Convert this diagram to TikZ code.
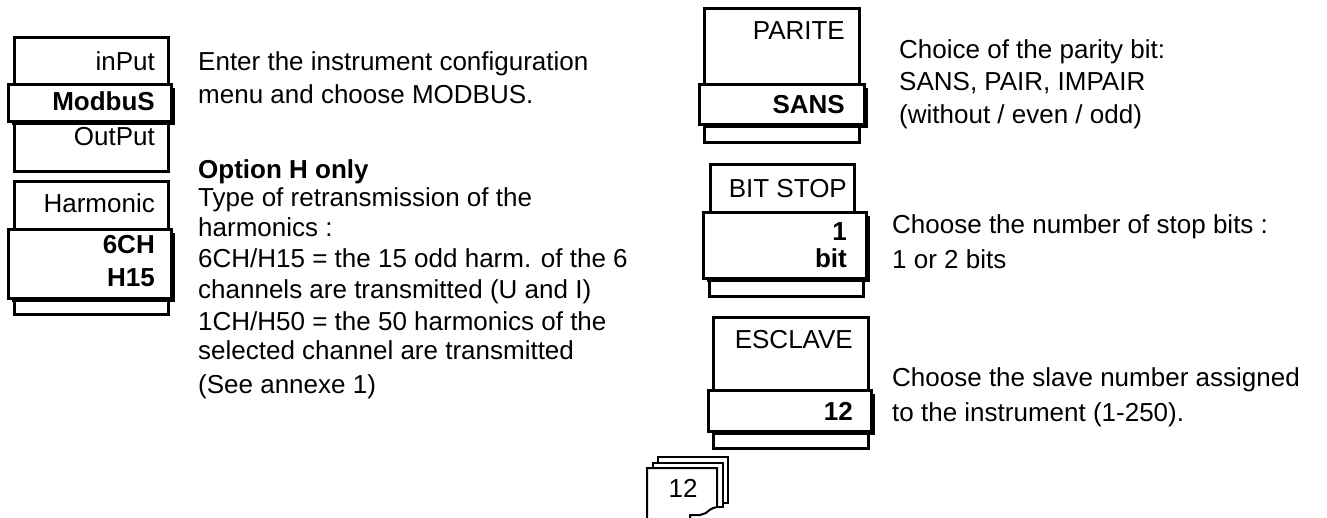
\documentclass[tikz,border=0pt]{standalone}
\usepackage{fontspec}
\setmainfont{Liberation Sans}
\usetikzlibrary{shadows}
\newcommand{\myfont}{\fontsize{26}{31}\selectfont}
\tikzset{
  box/.style={draw, line width=2.5pt, fill=white, inner sep=0pt, anchor=north west},
  selbox/.style={box, drop shadow={shadow xshift=4pt, shadow yshift=-4pt, opacity=1, fill=black}},
  lbl/.style={anchor=base east, inner sep=0pt, font=\myfont},
  blbl/.style={anchor=base east, inner sep=0pt, font=\myfont\bfseries},
  txt/.style={anchor=base west, inner sep=0pt, font=\myfont},
  btxt/.style={anchor=base west, inner sep=0pt, font=\myfont\bfseries},
  page/.style={draw, line width=2pt, fill=white},
}
\begin{document}
\begin{tikzpicture}[x=1pt, y=-1pt]
\useasboundingbox (0,0) rectangle (1327,517);
\clip (0,0) rectangle (1327,517);
% ---------- widget 1 : inPut / ModbuS / OutPut
\node[box, minimum width=154pt, minimum height=60pt] (inHdr) at (13,36) {};
\node[box, minimum width=154pt, minimum height=56pt] (outBox) at (13,114) {};
\node[selbox, minimum width=163pt, minimum height=37pt] (modVal) at (7,83) {};
\node[lbl] (tIn) at (155,70.5) {inPut};
\node[blbl] (tMod) at (155,110.5) {ModbuS};
\node[lbl] (tOut) at (155,145.5) {OutPut};
% ---------- widget 2 : Harmonic
\node[box, minimum width=154pt, minimum height=60pt] (harHdr) at (13,180) {};
\node[box, minimum width=154pt, minimum height=20pt] (harStrip) at (13,293) {};
\node[selbox, minimum width=163pt, minimum height=69pt] (harVal) at (7,228) {};
\node[lbl] (tHar) at (155,212.5) {Harmonic};
\node[blbl] (tSixCH) at (155,253.5) {6CH};
\node[blbl] (tHfif) at (155,286.5) {H15};
% ---------- widget 3 : PARITE
\node[box, minimum width=155pt, minimum height=85pt] (parHdr) at (703,7) {};
\node[box, minimum width=155pt, minimum height=22pt] (parStrip) at (703,119) {};
\node[selbox, minimum width=165pt, minimum height=40pt] (parVal) at (698,83) {};
\node[lbl] (tPar) at (845,39.5) {PARITE};
\node[blbl] (tSans) at (845,113.5) {SANS};
% ---------- widget 4 : BIT STOP
\node[box, minimum width=144pt, minimum height=55pt] (bitHdr) at (709,163) {};
\node[box, minimum width=154pt, minimum height=22pt] (bitStrip) at (708,273) {};
\node[selbox, minimum width=163pt, minimum height=66pt] (bitVal) at (702,211) {};
\node[lbl] (tBit) at (847,197) {BIT STOP};
\node[blbl] (tOne) at (847,240.5) {1};
\node[blbl] (tBitv) at (847,267.5) {bit};
% ---------- widget 5 : ESCLAVE
\node[box, minimum width=155pt, minimum height=80pt] (escHdr) at (712,316) {};
\node[box, minimum width=155pt, minimum height=21pt] (escStrip) at (712,426) {};
\node[selbox, minimum width=163pt, minimum height=41pt] (escVal) at (707,389) {};
\node[lbl] (tEsc) at (853,348.5) {ESCLAVE};
\node[blbl] (tTwelve) at (853,420.5) {12};
% ---------- descriptions, left
\node[txt] (d1) at (198,70.5) {Enter the instrument configuration};
\node[txt] (d2) at (198,103.5) {menu and choose MODBUS.};
\node[btxt] (h1) at (198,178.5) {Option H only};
\node[txt] (h2) at (198,206.5) {Type of retransmission of the};
\node[txt] (h3) at (198,236.5) {harmonics :};
\node[txt] (h4) at (198,267.5) {6CH/H15 = the 15 odd harm. of the 6};
\node[txt] (h5) at (198,298.5) {channels are transmitted (U and I)};
\node[txt] (h6) at (198,330.5) {1CH/H50 = the 50 harmonics of the};
\node[txt] (h7) at (198,359) {selected channel are transmitted};
\node[txt] (h8) at (198,393) {(See annexe 1)};
% ---------- descriptions, right
\node[txt] (p1) at (899,58.5) {Choice of the parity bit:};
\node[txt] (p2) at (899,90.5) {SANS, PAIR, IMPAIR};
\node[txt] (p3) at (899,123.5) {(without / even / odd)};
\node[txt] (s1) at (892,233.5) {Choose the number of stop bits :};
\node[txt] (s2) at (892,268) {1 or 2 bits};
\node[txt] (e1) at (892,386.5) {Choose the slave number assigned};
\node[txt] (e2) at (892,421.5) {to the instrument (1-250).};
% ---------- page icon
\draw[page] (658,457) rectangle (728,503);
\draw[page] (653,463) rectangle (723,507);
\draw[page] (647,530) -- (647,468) -- (717,468) -- (717,507)
  .. controls (712,508) and (709,510) .. (706,513)
  -- (700,515) -- (690,515) -- (690,530) -- cycle;
\node[anchor=base, inner sep=0pt, font=\myfont] (pg) at (683,497) {12};
\end{tikzpicture}
\end{document}
